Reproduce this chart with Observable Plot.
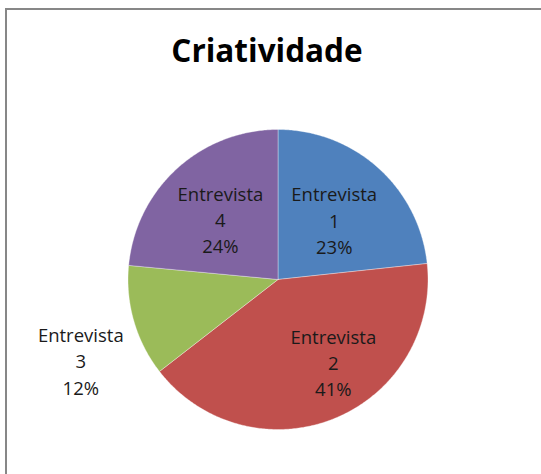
<!DOCTYPE html>
<html>
<head>
<meta charset="utf-8">
<script src="https://cdn.jsdelivr.net/npm/d3@7"></script>
<script src="https://cdn.jsdelivr.net/npm/@observablehq/plot@0.6"></script>
<style>
  html, body { margin: 0; padding: 0; background: #fff; overflow: hidden; }
  #wrap { position: relative; width: 541px; height: 474px; overflow: hidden; }
  #frame { position: absolute; left: 5px; top: 8px; width: 700px; height: 700px; border-left: 2px solid #878787; border-top: 2px solid #878787; box-sizing: border-box; }
  #chart { position: absolute; left: 0; top: 0; }
</style>
</head>
<body>
<div id="wrap"><div id="frame"></div><div id="chart"></div></div>
<script>
const title = "Criatividade";
const categories = ["Entrevista 1", "Entrevista 2", "Entrevista 3", "Entrevista 4"];
const values = [23.3, 41.2, 12, 23.5];
const percentLabels = ["23%", "41%", "12%", "24%"];
const colors = ["#4F81BD", "#C0504D", "#9BBB59", "#8064A2"];

// layout
const W = 541, H = 474, R = 150, cx = 277.5, cy = 279;
const labelLayout = [{r: 0.55, da: 1}, {r: 0.66, da: -12}, {r: 1.42, da: -6}, {r: 0.56, da: -1}];

const arcs = d3.pie().sort(null).value(d => d)(values);
const slicePts = arcs.map((a, i) => {
  const pts = [{x: 0, y: 0}];
  const n = Math.max(2, Math.ceil((a.endAngle - a.startAngle) / 0.01));
  for (let k = 0; k <= n; k++) {
    const t = a.startAngle + (a.endAngle - a.startAngle) * k / n;
    pts.push({x: Math.sin(t), y: Math.cos(t)});
  }
  pts.push({x: 0, y: 0});
  return pts;
});
const labelData = arcs.map((a, i) => {
  const m = (a.startAngle + a.endAngle) / 2 + labelLayout[i].da * Math.PI / 180;
  const r = labelLayout[i].r;
  return {x: r * Math.sin(m), y: r * Math.cos(m), text: categories[i].replace(" ", "\n") + "\n" + percentLabels[i]};
});

const plot = Plot.plot({
  width: W, height: H,
  margin: 0,
  x: {domain: [-cx / R, (W - cx) / R], axis: null},
  y: {domain: [-(H - cy) / R, cy / R], axis: null},
  style: {background: "transparent"},
  marks: [
    ...slicePts.map((pts, i) => Plot.line(pts, {x: "x", y: "y", fill: colors[i], stroke: "#ffffff", strokeOpacity: 0.35, strokeWidth: 1, curve: "linear"})),
    Plot.text(labelData, {x: "x", y: "y", text: "text", fontFamily: "Open Sans", fontSize: 18.5, lineHeight: 1.42, fill: "#1a1a1a", textAnchor: "middle", lineAnchor: "middle"}),
    Plot.text([title], {frameAnchor: "top", dx: -4, dy: 51, text: d => d, fontFamily: "Open Sans", fontWeight: "bold", fontSize: 31.5, fill: "#000", lineAnchor: "middle"})
  ]
});
document.getElementById("chart").appendChild(plot);
</script>
</body>
</html>
